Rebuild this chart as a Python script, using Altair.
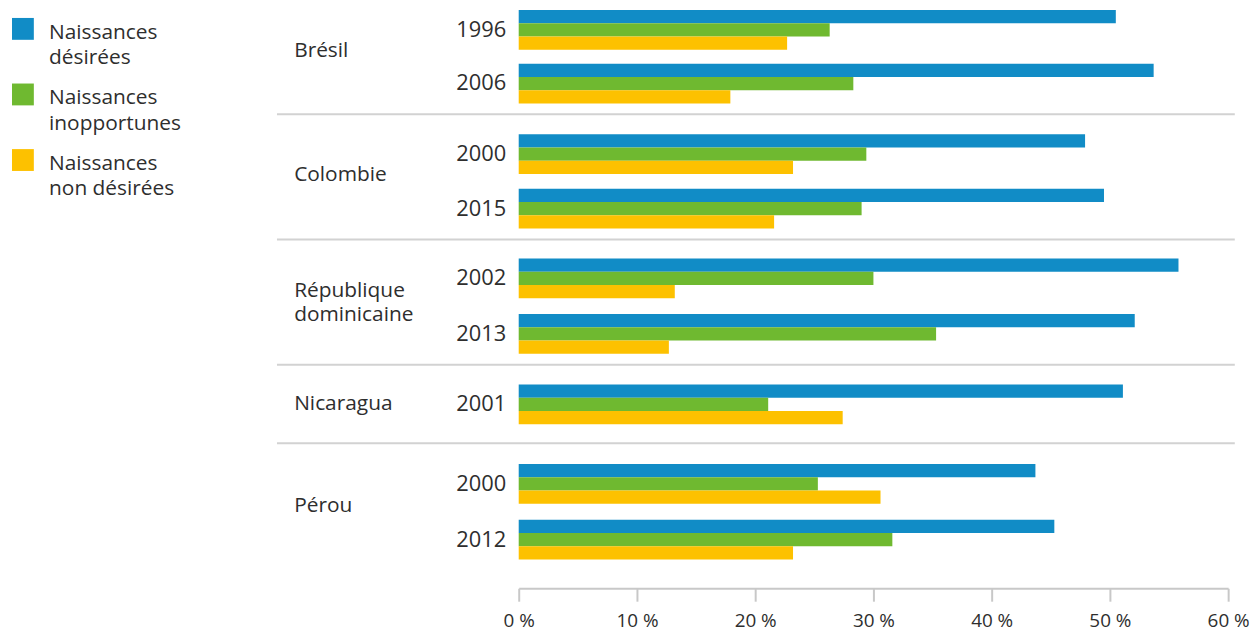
import altair as alt
import pandas as pd

# ---- data ----
countries = ["Brésil", "Colombie", "République dominicaine", "Nicaragua", "Pérou"]
survey_years = [["1996", "2006"], ["2000", "2015"], ["2002", "2013"], ["2001"], ["2000", "2012"]]
series = ["Naissances désirées", "Naissances inopportunes", "Naissances non désirées"]
desirees = [50.5, 53.7, 47.9, 49.5, 55.8, 52.1, 51.1, 43.7, 45.3]
inopportunes = [26.3, 28.3, 29.4, 29.0, 30.0, 35.3, 21.1, 25.3, 31.6]
non_desirees = [22.7, 17.9, 23.2, 21.6, 13.2, 12.7, 27.4, 30.6, 23.2]
x_ticks = [0, 10, 20, 30, 40, 50, 60]
colors = ["#118cc6", "#6fb930", "#fdc100"]

FONT = "Open Sans"
TEXT = "#2e2e2e"
LINE = "#d2d2d2"
AXIS = "#c8c8c8"
PLOT_W = 714
BAND = 40
# per block: top padding, gap between year groups, block height
block_layout = [(0, 14, 103), (22, 15, 126), (21, 16, 126), (22, 0, 79), (23, 16, 148)]

rows = []
k = 0
for c, ys in zip(countries, survey_years):
    for y in ys:
        for s, vals in zip(series, [desirees, inopportunes, non_desirees]):
            rows.append({"pays": c, "annee": y, "serie": s, "valeur": vals[k]})
        k += 1
df = pd.DataFrame(rows)

color = alt.Color("serie:N", scale=alt.Scale(domain=series, range=colors), legend=None)

blocks = []
for i, (c, ys) in enumerate(zip(countries, survey_years)):
    t, g, H = block_layout[i]
    n = len(ys)
    if n > 1:
        step = BAND + g
        pi = g / step
    else:
        pi = 0.27
        step = BAND / (1 - pi)
    b = H - t - n * BAND - (n - 1) * g
    po = (t + b) / (2 * step)
    al = t / (t + b)
    last = i == len(countries) - 1
    first = i == 0

    if last:
        xaxis = alt.Axis(values=x_ticks, labelExpr="datum.value + ' %'", domainColor=AXIS,
                         domainWidth=2, tickColor=AXIS, tickWidth=2, tickSize=13,
                         labelFontSize=19, labelColor=TEXT, labelFont=FONT, labelPadding=10,
                         labelFlush=False, grid=False, title=None)
    else:
        xaxis = None

    sub = df[df.pays == c]
    bars = alt.Chart(sub).mark_bar().encode(
        x=alt.X("valeur:Q", scale=alt.Scale(domain=[0, 60], nice=False), axis=xaxis, title=None),
        y=alt.Y("annee:N", sort=ys,
                scale=alt.Scale(paddingInner=pi, paddingOuter=po, align=al),
                axis=alt.Axis(domain=False, ticks=False, tickSize=0, labelPadding=13,
                              labelFontSize=22, labelColor=TEXT, labelFont=FONT,
                              grid=False, title=None),
                title=None),
        yOffset=alt.YOffset("serie:N", sort=series),
        color=color,
    )

    one = pd.DataFrame({"pays": [c]})
    rule = alt.Chart(one).mark_rule(color="white" if first else LINE, strokeWidth=2).encode(
        x=alt.value(-243.3), x2=alt.value(PLOT_W + 6.7), y=alt.value(2)
    )
    nlines = len(c.split(" "))
    if n > 1:
        mid = t + BAND + g / 2
    else:
        mid = t + BAND / 2 + 6
    ylab = mid - (nlines - 1) * 9.5
    label = alt.Chart(one).mark_text(
        align="left", baseline="alphabetic", font=FONT, fontSize=21, fontWeight=500,
        color=TEXT, lineBreak=" ", lineHeight=25
    ).encode(text="pays:N", x=alt.value(-226), y=alt.value(ylab))

    blocks.append(alt.layer(rule, bars, label).properties(width=PLOT_W, height=H))

right = alt.vconcat(*blocks, spacing=0).resolve_scale(x="independent", y="independent", yOffset="independent")

leg_df = pd.DataFrame({"serie": series})
leg_base = alt.Chart(leg_df).transform_calculate(
    label="replace(datum.serie, 'Naissances ', 'Naissances\\n')"
)
yleg = alt.Y("serie:N", sort=series, scale=alt.Scale(type="point", padding=0.288), axis=None)
squares = leg_base.mark_square(size=484, opacity=1).encode(x=alt.value(15), y=yleg, color=color)
texts = leg_base.mark_text(
    align="left", baseline="alphabetic", dy=10, font=FONT, fontSize=21, lineHeight=25.3,
    lineBreak="\n", color=TEXT
).encode(x=alt.value(41.3), y=yleg, text="label:N")
legend = alt.layer(squares, texts).properties(width=175, height=170)

chart = alt.hconcat(legend, right, spacing=94).properties(padding=0).configure(
    font=FONT
).configure_view(strokeWidth=0)

chart.save("out.html", embed_options={"renderer": "svg", "actions": False})
